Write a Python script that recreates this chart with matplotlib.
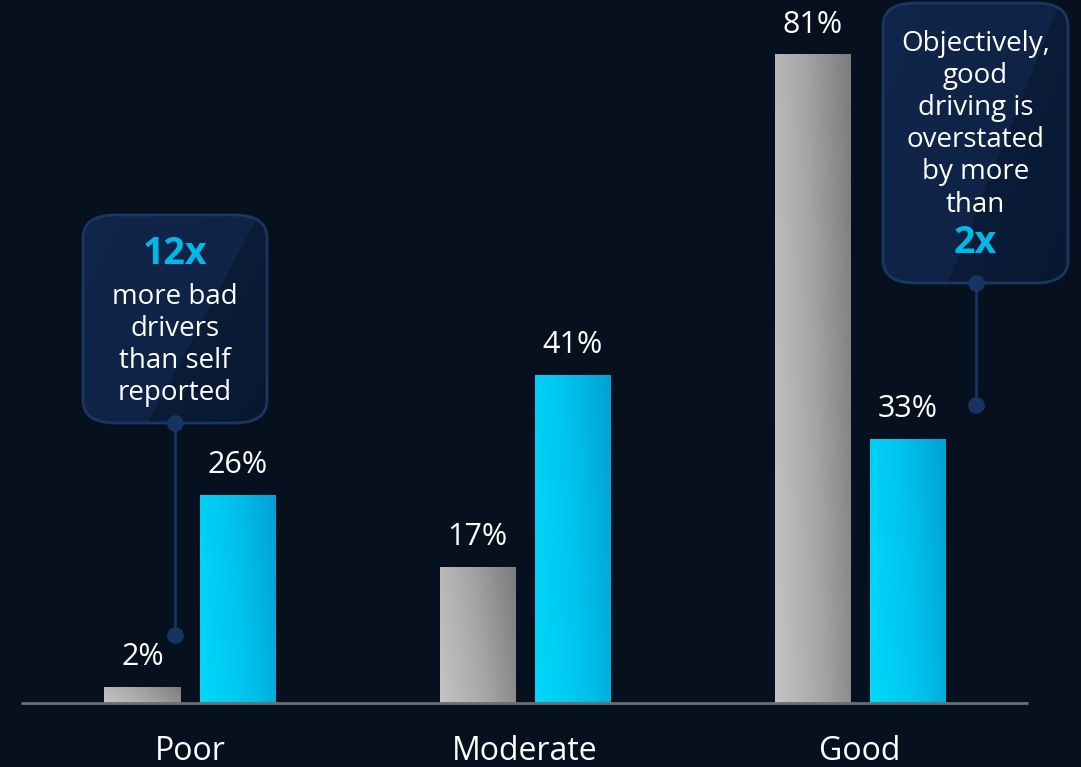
import matplotlib.pyplot as plt
import numpy as np
from matplotlib.colors import LinearSegmentedColormap
from matplotlib.patches import FancyBboxPatch

plt.rcParams["font.family"] = ["Open Sans", "DejaVu Sans"]

# data
categories = ["Poor", "Moderate", "Good"]
self_reported = [2, 17, 81]
objective = [26, 41, 33]

BG = "#07101f"
CYAN = "#00b9e8"

W, H = 1081, 767
fig = plt.figure(figsize=(W / 100, H / 100), dpi=100, facecolor=BG)
ax = fig.add_axes([0, 0, 1, 1])
ax.set_facecolor(BG)

# pixel layout -> data scale
px_per_cat = 335.0
px_per_pct = 8.01
x0_px, base_px = 190.0, 64.0
ax.set_xlim(-x0_px / px_per_cat, (W - x0_px) / px_per_cat)
ax.set_ylim(-base_px / px_per_pct, (H - base_px) / px_per_pct)
ax.axis("off")

bar_w = 76 / px_per_cat
offset = 47.5 / px_per_cat

gray_cmap = LinearSegmentedColormap.from_list("g", ["#c4c4c4", "#a6a6a6", "#7c7c7c"])
blue_cmap = LinearSegmentedColormap.from_list("b", ["#00d8fa", "#00c4ee", "#00a2d4"])


def gradient_bar(x, h, cmap):
    bars = ax.bar(x, h, width=bar_w, color="none", zorder=2)
    rect = bars[0]
    gx, gy = np.meshgrid(np.linspace(0, 1, 64), np.linspace(0, 1, 64))
    grad = 0.8 * gx + 0.2 * gy
    im = ax.imshow(grad, cmap=cmap, aspect="auto", origin="lower",
                   extent=[x - bar_w / 2, x + bar_w / 2, 0, h], zorder=2)
    im.set_clip_path(rect)


x = np.arange(len(categories))
for i in x:
    gradient_bar(i - offset, self_reported[i], gray_cmap)
    gradient_bar(i + offset, objective[i], blue_cmap)
    ax.text(i - offset, self_reported[i] + 3.7, f"{self_reported[i]}%", ha="center",
            va="center", color="white", fontsize=22)
    ax.text(i + offset, objective[i] + 3.7, f"{objective[i]}%", ha="center",
            va="center", color="white", fontsize=22)
    ax.text(i, -6.1, categories[i], ha="center", va="center", color="white", fontsize=23)

# baseline
ax.plot([(21 - x0_px) / px_per_cat, (1028 - x0_px) / px_per_cat], [0, 0],
        color="#6e6e6e", lw=2, zorder=3, solid_capstyle="butt")

# callouts (figure pixel coords, from top)
box_cmap = LinearSegmentedColormap.from_list("box", ["#10264a", "#0b1d3a", "#05132a"])
LINE_C = "#163460"


def callout(x1, y1, x2, y2, line_end):
    fx = lambda px: px / W
    fy = lambda py: 1 - py / H
    box = FancyBboxPatch((fx(x1), fy(y2)), fx(x2 - x1), (y2 - y1) / H,
                         boxstyle="round,pad=0,rounding_size=0.03",
                         transform=fig.transFigure, facecolor="none",
                         edgecolor="#1a3762", lw=2, zorder=5)
    fig.add_artist(box)
    gx, gy = np.meshgrid(np.linspace(0, 1, 120), np.linspace(0, 1, 120))
    d = gx + (1 - gy) * 0.6
    grad = np.where(d < 0.95, 0.15 * d, 0.55 + 0.3 * (d - 0.95))
    im = ax.imshow(grad, cmap=box_cmap, aspect="auto", origin="lower", vmin=0, vmax=1,
                   extent=[(x1 - x0_px) / px_per_cat, (x2 - x0_px) / px_per_cat,
                           (H - y2 - base_px) / px_per_pct, (H - y1 - base_px) / px_per_pct],
                   zorder=4)
    im.set_clip_path(box)
    cx = (x1 + x2) / 2
    fig.add_artist(plt.Line2D([fx(cx), fx(cx)], [fy(y2), fy(line_end)],
                              transform=fig.transFigure, color=LINE_C, lw=2, zorder=6))
    for py in (y2, line_end):
        fig.add_artist(plt.Line2D([fx(cx)], [fy(py)], marker="o", ms=11,
                                  color=LINE_C, transform=fig.transFigure, zorder=6))
    return cx


cx = callout(83, 215, 267, 423, 635)
fig.text(cx / W, 1 - 254 / H, "12x", ha="center", va="center", color=CYAN,
         fontsize=27, fontweight="bold", zorder=7)
fig.text(cx / W, 1 - 345 / H, "more bad\ndrivers\nthan self\nreported", ha="center",
         va="center", color="white", fontsize=20, linespacing=1.2, zorder=7)

cx = callout(883, 3, 1068, 283, 405)
fig.text(cx / W, 1 - 124 / H, "Objectively,\ngood\ndriving is\noverstated\nby more\nthan",
         ha="center", va="center", color="white", fontsize=20, linespacing=1.2, zorder=7)
fig.text(cx / W, 1 - 243 / H, "2x", ha="center", va="center", color=CYAN,
         fontsize=27, fontweight="bold", zorder=7)

fig.savefig("out.png", dpi=100, facecolor=BG)
